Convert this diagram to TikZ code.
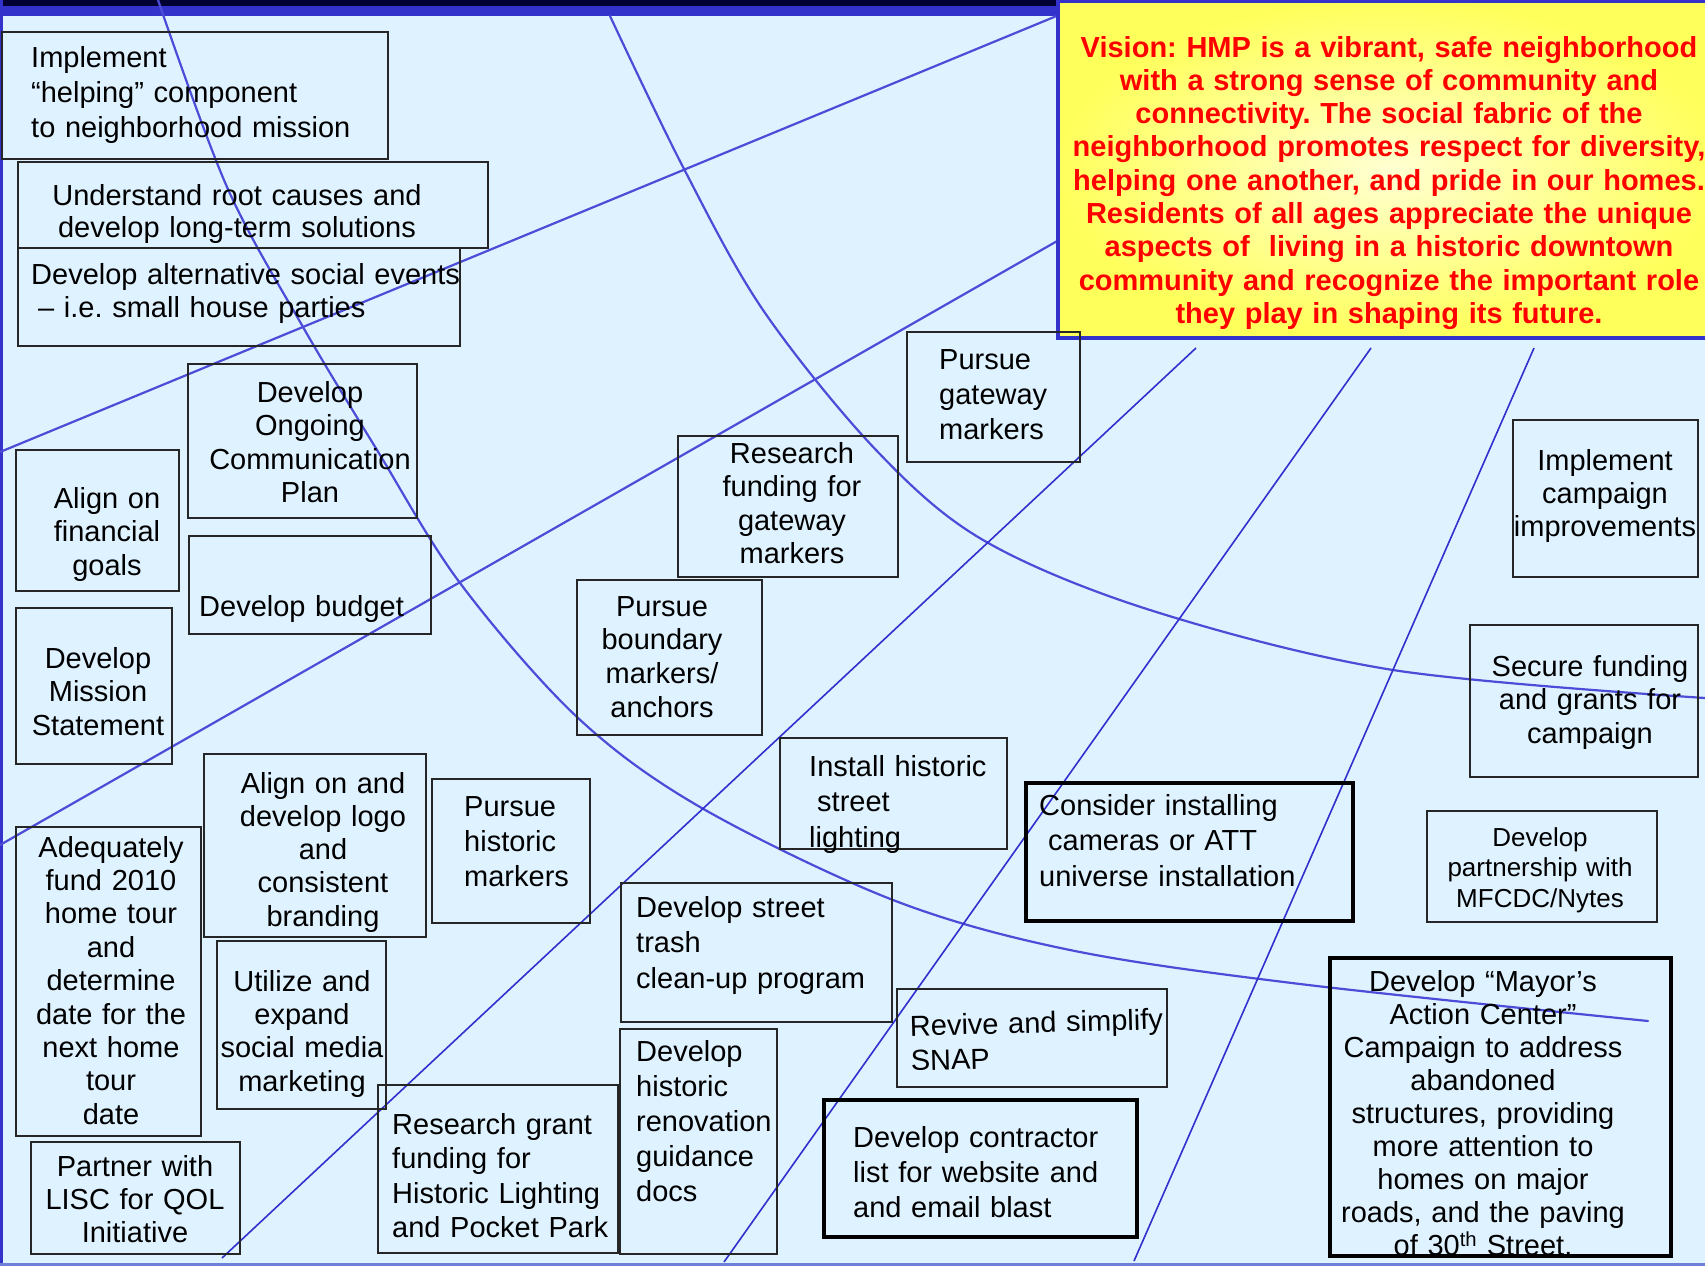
\documentclass[tikz,border=0pt]{standalone}
\usepackage{fontspec}
\setmainfont{Liberation Sans}
\frenchspacing
\definecolor{bg}{HTML}{DFF2FF}
\definecolor{edge}{HTML}{3333CC}
\definecolor{lnA}{HTML}{4C4CD8}
\definecolor{lnB}{HTML}{3030CE}
\definecolor{visred}{HTML}{FF0000}
\definecolor{visout}{HTML}{FFFF5C}
\definecolor{visin}{HTML}{FFFFD2}
\definecolor{boxln}{HTML}{262626}
\definecolor{bottomln}{HTML}{7080D8}
\newcommand\bodyfont[1]{\fontsize{29}{#1}\selectfont}
\tikzset{
  curveln/.style={draw=lnA, line width=2.2pt, line join=round, line cap=round},
  straightln/.style={draw=lnB, line width=1.6pt},
  bx/.style={draw=boxln, line width=2pt},
  bxthick/.style={draw=black, line width=3.5pt},
  tl/.style={inner sep=0pt, anchor=base west, text width=520pt, align=left,
    execute at begin node={\parindent=0pt\frenchspacing}},
  tc/.style={inner sep=0pt, anchor=base, text width=500pt, align=center,
    execute at begin node={\parindent=0pt\frenchspacing}},
}
\begin{document}
\begin{tikzpicture}[x=1pt,y=-1pt]
\useasboundingbox (0,0) rectangle (1705,1266);
\clip (0,0) rectangle (1705,1266);
% background and frame
\fill[bg] (0,0) rectangle (1705,1266);
\fill[black!80!blue] (0,0) rectangle (1060,6);
\fill[edge] (0,6) rectangle (1060,16);
\fill[edge] (0,0) rectangle (3,1266);
\draw[bottomln, line width=3pt] (0,1264.5) -- (1705,1264.5);

% curved lines
\draw[curveln] plot[smooth, tension=0.55] coordinates {
  (158,0) (227,187) (303,327) (377,450) (460,583) (577,717) (700,807)
  (893,900) (1070,950) (1300,984) (1648,1021)};
\draw[curveln] plot[smooth, tension=0.55] coordinates {
  (610,16) (683,167) (763,310) (876,450) (983,540) (1150,610) (1393,670) (1705,698)};
% straight lines
\coordinate (a1) at (0,452);   \coordinate (a2) at (1059,15);
\coordinate (b1) at (0,845);   \coordinate (b2) at (1059,240);
\coordinate (c1) at (222,1258); \coordinate (c2) at (1196,348);
\coordinate (d1) at (724,1262); \coordinate (d2) at (1371,348);
\coordinate (e1) at (1134,1261); \coordinate (e2) at (1534,348);
\draw[curveln] (a1) -- (a2);
\draw[curveln] (b1) -- (b2);
\draw[straightln] (c1) -- (c2);
\draw[straightln] (d1) -- (d2);
\draw[straightln] (e1) -- (e2);

% vision box
\path[draw=edge, line width=3.5pt, inner color=visin, outer color=visout] (1058,1) rectangle (1720,338);
\node[inner sep=0pt, anchor=base, text width=720pt, align=center, text=visred,
  font=\bfseries\fontsize{29}{33.3}\selectfont,
  execute at begin node={\frenchspacing}] (vision) at (1389,57)
  {Vision: HMP is a vibrant, safe neighborhood\\
   with a strong sense of community and\\
   connectivity. The social fabric of the\\
   neighborhood promotes respect for diversity,\\
   helping one another, and pride in our homes.\\
   Residents of all ages appreciate the unique\\
   aspects of~ living in a historic downtown\\
   community and recognize the important role\\
   they play in shaping its future.};

% boxes
\draw[bx] (2,32) rectangle (388,159);
\draw[bx] (18,162) rectangle (488,248);
\draw[bx] (18,248) rectangle (460,346);
\draw[bx] (188,364) rectangle (417,518);
\draw[bx] (16,450) rectangle (179,591);
\draw[bx] (189,536) rectangle (431,634);
\draw[bx] (16,608) rectangle (172,764);
\draw[bx] (204,754) rectangle (426,937);
\draw[bx] (432,779) rectangle (590,923);
\draw[bx] (16,827) rectangle (201,1136);
\draw[bx] (217,941) rectangle (386,1109);
\draw[bx] (31,1142) rectangle (240,1254);
\draw[bx] (378,1085) rectangle (618,1253);
\draw[bx] (620,1029) rectangle (777,1254);
\draw[bx] (621,883) rectangle (892,1022);
\draw[bx] (577,580) rectangle (762,735);
\draw[bx] (678,436) rectangle (898,577);
\draw[bx] (907,332) rectangle (1080,462);
\draw[bx] (780,738) rectangle (1007,849);
\draw[bxthick] (1026,783) rectangle (1353,921);
\draw[bx] (1427,811) rectangle (1657,922);
\draw[bx] (1513,420) rectangle (1698,577);
\draw[bx] (1470,625) rectangle (1698,777);
\draw[bx] (897,989) rectangle (1167,1087);
\draw[bxthick] (824,1100) rectangle (1137,1237);
\draw[bxthick] (1330,958) rectangle (1671,1256);

% texts
\node[tl, font=\bodyfont{35}] (tA) at (31,67) {Implement\\“helping” component\\to neighborhood mission};
\node[tc, font=\bodyfont{32.5}] (tB) at (237,205) {Understand root causes and\\develop long-term solutions};
\node[tl, font=\bodyfont{33}] (tC) at (31,284) {Develop alternative social events\\\hspace*{7pt}– i.e. small house parties};
\node[tc, font=\bodyfont{33.5}] (tD) at (310,402) {Develop\\Ongoing\\Communication\\Plan};
\node[tc, font=\bodyfont{33.5}] (tE) at (107,508) {Align on\\financial\\goals};
\node[tl, font=\bodyfont{33.5}] (tF) at (199,616) {Develop budget};
\node[tc, font=\bodyfont{33.5}] (tG) at (98,668) {Develop\\Mission\\Statement};
\node[tc, font=\bodyfont{33.3}] (tH) at (323,793) {Align on and\\develop logo\\and\\consistent\\branding};
\node[tl, font=\bodyfont{35}] (tI) at (464,816) {Pursue\\historic\\markers};
\node[tc, font=\bodyfont{33.4}] (tJ) at (111,857) {Adequately\\fund 2010\\home tour\\and\\determine\\date for the\\next home\\tour\\date};
\node[tc, font=\bodyfont{33.4}] (tK) at (302,991) {Utilize and\\expand\\social media\\marketing};
\node[tc, font=\bodyfont{33}] (tL) at (135,1176) {Partner with\\LISC for QOL\\Initiative};
\node[tl, font=\bodyfont{34.5}] (tM) at (392,1134) {Research grant\\funding for\\Historic Lighting\\and Pocket Park};
\node[tl, font=\bodyfont{35.2}] (tN) at (636,1061) {Develop\\historic\\renovation\\guidance\\docs};
\node[tl, font=\bodyfont{35.5}] (tO) at (636,917) {Develop street\\trash\\clean-up program};
\node[tc, font=\bodyfont{33.7}] (tP) at (662,616) {Pursue\\boundary\\markers/\\anchors};
\node[tc, font=\bodyfont{33.5}] (tQ) at (792,463) {Research\\funding for\\gateway\\markers};
\node[tl, font=\bodyfont{35}] (tR) at (939,369) {Pursue\\gateway\\markers};
\node[tl, font=\bodyfont{35.5}] (tS) at (809,776) {Install historic\\\hspace*{8pt}street\\lighting};
\node[tl, font=\bodyfont{35.5}] (tT) at (1039,815) {Consider installing\\\hspace*{9pt}cameras or ATT\\universe installation};
\node[tc, font=\fontsize{26}{30.5}\selectfont] (tU) at (1540,846) {Develop\\partnership with\\MFCDC/Nytes};
\node[tc, font=\bodyfont{33}] (tV) at (1605,470) {Implement\\campaign\\improvements};
\node[tc, font=\bodyfont{33.5}] (tW) at (1590,676) {Secure funding\\and grants for\\campaign};
\node[tl, font=\bodyfont{35}, rotate=1.5] (tX) at (910,1036) {Revive and simplify\\SNAP};
\node[tl, font=\bodyfont{35}] (tY) at (853,1147) {Develop contractor\\list for website and\\and email blast};
\begin{scope}
\clip (1332,960) rectangle (1669,1253);
\node[tc, font=\bodyfont{33.1}] (tZ) at (1483,991) {Develop “Mayor’s\\Action Center”\\Campaign to address\\abandoned\\structures, providing\\more attention to\\homes on major\\roads, and the paving\\of 30\textsuperscript{th} Street.};
\end{scope}
\end{tikzpicture}
\end{document}
